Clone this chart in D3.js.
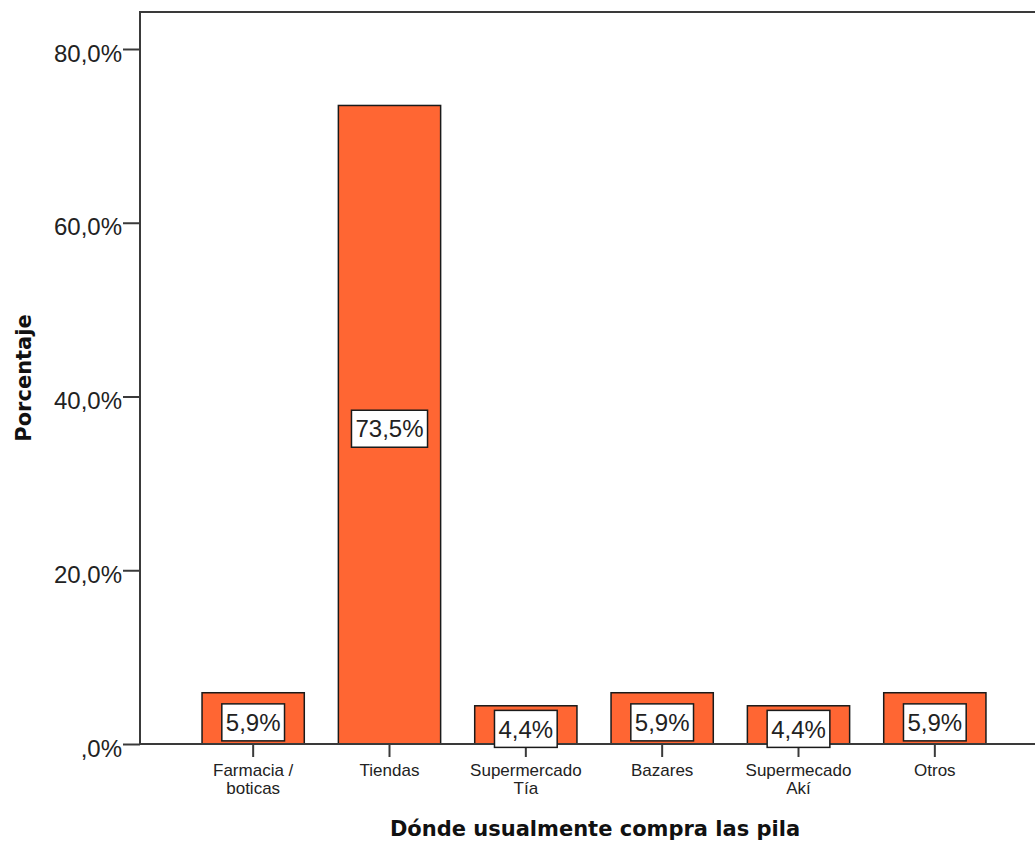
<!DOCTYPE html>
<html>
<head>
<meta charset="utf-8">
<script src="https://cdn.jsdelivr.net/npm/d3@7"></script>
<style>
  html, body { margin: 0; padding: 0; background: #fff; }
  svg { display: block; }
</style>
</head>
<body>
<svg id="chart" width="1035" height="844"></svg>
<script>
// Where people usually buy batteries (percent of respondents)
const categories = [["Farmacia /", "boticas"], ["Tiendas"], ["Supermercado", "Tía"], ["Bazares"], ["Supermecado", "Akí"], ["Otros"]];
const values = [5.9, 73.5, 4.4, 5.9, 4.4, 5.9];
const yTicks = [0, 20, 40, 60, 80];
const yTickLabels = [",0%", "20,0%", "40,0%", "60,0%", "80,0%"];
const xTitle = "Dónde usualmente compra las pila";
const yTitle = "Porcentaje";

const svg = d3.select("#chart");
const plotLeft = 140, plotTop = 12, plotBottom = 744, plotRight = 1040;

const keys = categories.map((c, i) => i);
const x = d3.scaleBand().domain(keys).range([185, 1003]).paddingInner(0.25).paddingOuter(0.125);
const y = d3.scaleLinear().domain([0, 80]).range([plotBottom, 49]);

// frame: top and left edges
svg.append("path")
  .attr("d", `M${plotLeft},${plotBottom}V${plotTop}H${plotRight}`)
  .attr("fill", "none").attr("stroke", "#3a3a3a").attr("stroke-width", 2);

// bars
svg.append("g").selectAll("rect").data(values).join("rect")
  .attr("x", (d, i) => x(i))
  .attr("y", d => y(d))
  .attr("width", x.bandwidth())
  .attr("height", d => y(0) - y(d))
  .attr("fill", "#ff6633")
  .attr("stroke", "#1a1a1a").attr("stroke-width", 1.5);

// y axis
const yAxis = d3.axisLeft(y).tickValues(yTicks)
  .tickFormat((d, i) => yTickLabels[i]).tickSize(17).tickPadding(1);
const gy = svg.append("g").attr("transform", `translate(${plotLeft},0)`).call(yAxis);
gy.select(".domain").remove();
gy.selectAll(".tick line").attr("stroke", "#3a3a3a").attr("stroke-width", 2);
gy.selectAll(".tick text")
  .attr("font-family", "'Liberation Sans', Arial, sans-serif")
  .attr("font-size", 24).attr("fill", "#222").attr("dy", "0.5em");

// x axis
const xAxis = d3.axisBottom(x).tickSize(13).tickFormat("");
const gx = svg.append("g").attr("transform", `translate(0,${plotBottom})`).call(xAxis);
gx.select(".domain").remove();
gx.selectAll(".tick line").attr("stroke", "#3a3a3a").attr("stroke-width", 2);
svg.append("line").attr("x1", plotLeft).attr("x2", plotRight).attr("y1", plotBottom).attr("y2", plotBottom)
  .attr("stroke", "#3a3a3a").attr("stroke-width", 2);

// category labels (wrapped)
const cat = svg.append("g").selectAll("text").data(categories).join("text")
  .attr("text-anchor", "middle")
  .attr("font-family", "'Liberation Sans', Arial, sans-serif")
  .attr("font-size", 17).attr("fill", "#222")
  .attr("transform", (d, i) => `translate(${x(i) + x.bandwidth() / 2},776)`);
cat.selectAll("tspan").data(d => d).join("tspan")
  .attr("x", 0).attr("dy", (d, j) => j === 0 ? 0 : 18).text(d => d);

// value labels in boxes
const lab = svg.append("g").selectAll("g").data(values).join("g")
  .attr("transform", (d, i) => `translate(${x(i) + x.bandwidth() / 2},${(y(d) + y(0)) / 2 + 4})`);
const ltxt = lab.append("text")
  .attr("text-anchor", "middle").attr("dy", "0.36em")
  .attr("font-family", "'Liberation Sans', Arial, sans-serif")
  .attr("font-size", 24).attr("fill", "#222")
  .text(d => d3.format(".1f")(d).replace(".", ",") + "%");
ltxt.each(function () {
  const w = this.getComputedTextLength() + 8;
  d3.select(this.parentNode).insert("rect", "text")
    .attr("x", -w / 2).attr("y", -18.5).attr("width", w).attr("height", 37)
    .attr("fill", "#fff").attr("stroke", "#1a1a1a").attr("stroke-width", 1.5);
});

// axis titles
svg.append("text").attr("x", 595).attr("y", 836).attr("text-anchor", "middle")
  .attr("font-family", "'DejaVu Sans', Verdana, sans-serif").attr("font-weight", "bold")
  .attr("font-size", 21).attr("fill", "#111").text(xTitle);
svg.append("text").attr("transform", "translate(31,378) rotate(-90)").attr("text-anchor", "middle")
  .attr("font-family", "'DejaVu Sans', Verdana, sans-serif").attr("font-weight", "bold")
  .attr("font-size", 21).attr("fill", "#111").text(yTitle);
</script>
</body>
</html>
